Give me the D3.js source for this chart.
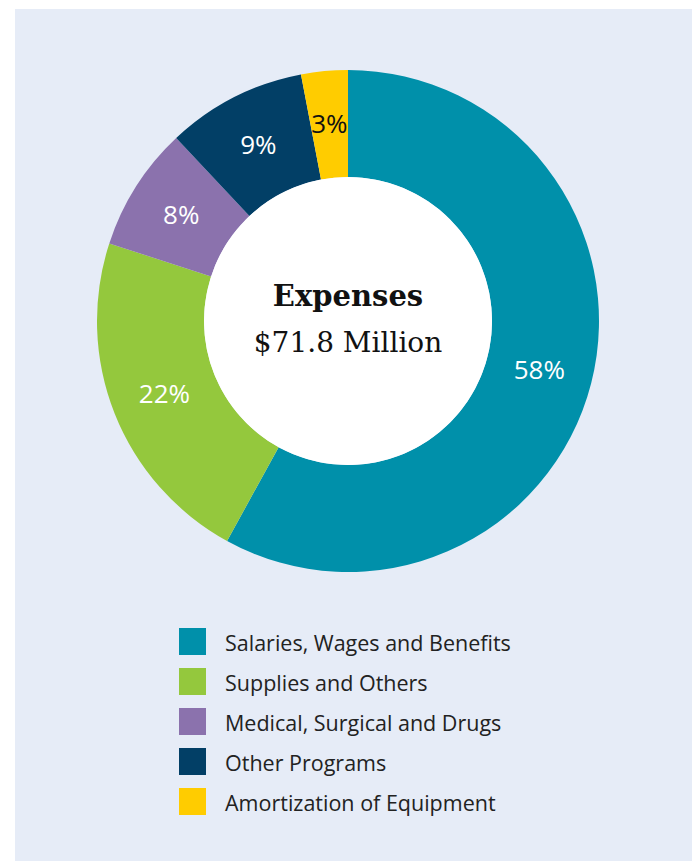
<!DOCTYPE html>
<html>
<head>
<meta charset="utf-8">
<script src="https://cdn.jsdelivr.net/npm/d3@7"></script>
<style>
  body { margin: 0; background: #fff; }
  svg text { font-family: "Open Sans", "Noto Sans", sans-serif; }
</style>
</head>
<body>
<svg id="chart" width="696" height="863"></svg>
<script>
// expenses breakdown, share of total (%)
var categories = ["Salaries, Wages and Benefits", "Supplies and Others", "Medical, Surgical and Drugs", "Other Programs", "Amortization of Equipment"];
var values = [58, 22, 8, 9, 3];
var colors = ["#0090aa", "#94c83d", "#8b72ad", "#023f66", "#ffcc00"];
var labelColors = ["#fff", "#fff", "#fff", "#fff", "#111"];
var title = "Expenses";
var subtitle = "$71.8 Million";

var svg = d3.select("#chart");

svg.append("rect")
    .attr("x", 15).attr("y", 9)
    .attr("width", 677).attr("height", 852)
    .attr("fill", "#e6ecf7");

var cx = 348, cy = 321,
    outer = 251, inner = 144;

var color = d3.scaleOrdinal().domain(categories).range(colors);

var pie = d3.pie().sort(null).value(function(d) { return d.value; });
var arc = d3.arc().innerRadius(inner).outerRadius(outer);

var data = categories.map(function(c, i) { return { name: c, value: values[i], i: i }; });

var g = svg.append("g").attr("transform", "translate(" + cx + "," + cy + ")");

g.selectAll("path")
    .data(pie(data))
    .enter().append("path")
    .attr("d", arc)
    .attr("fill", function(d) { return color(d.data.name); });

g.append("circle").attr("r", inner).attr("fill", "#fff");

g.selectAll("text.pct")
    .data(pie(data))
    .enter().append("text")
    .attr("class", "pct")
    .attr("transform", function(d) {
        var p = arc.centroid(d);
        return "translate(" + p[0] + "," + p[1] + ")";
    })
    .attr("text-anchor", "middle")
    .attr("dy", "0.35em")
    .attr("font-size", 26)
    .attr("fill", function(d) { return labelColors[d.data.i]; })
    .text(function(d) { return d.data.value + "%"; });

g.append("text")
    .attr("y", -15)
    .attr("text-anchor", "middle")
    .style("font-family", "'DejaVu Serif', serif")
    .attr("font-weight", "bold")
    .attr("font-size", 29)
    .attr("fill", "#111")
    .text(title);

g.append("text")
    .attr("y", 31)
    .attr("text-anchor", "middle")
    .style("font-family", "'DejaVu Serif', serif")
    .attr("font-size", 28)
    .attr("fill", "#111")
    .text(subtitle);

// legend
var legend = svg.append("g").attr("transform", "translate(179,628)");
var item = legend.selectAll("g")
    .data(categories)
    .enter().append("g")
    .attr("transform", function(d, i) { return "translate(0," + i * 40 + ")"; });

item.append("rect")
    .attr("width", 27).attr("height", 27)
    .attr("fill", function(d) { return color(d); });

item.append("text")
    .attr("x", 46).attr("y", 15)
    .attr("dy", "0.35em")
    .attr("font-size", 21.5)
    .attr("fill", "#222")
    .text(function(d) { return d; });
</script>
</body>
</html>
